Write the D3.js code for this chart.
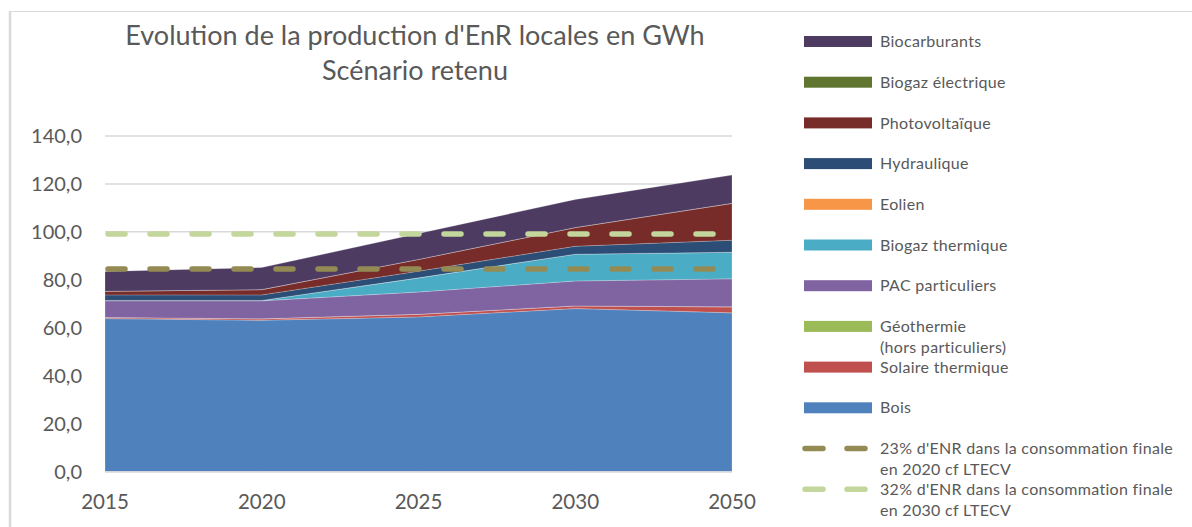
<!DOCTYPE html>
<html>
<head>
<meta charset="utf-8">
<script src="https://cdn.jsdelivr.net/npm/d3@7"></script>
<style>
  body { margin: 0; background: #fff; }
  svg text { font-family: Lato, "Open Sans", sans-serif; fill: #595959; }
</style>
</head>
<body>
<script>
// values (GWh)
const years = ["2015", "2020", "2025", "2030", "2050"];
const bois = [63.8, 63.1, 64.5, 68.0, 66.2];
const solaireThermique = [0.5, 0.6, 1.1, 1.1, 2.5];
const geothermie = [0, 0, 0, 0, 0];
const pacParticuliers = [6.9, 7.5, 9.3, 10.4, 11.7];
const biogazThermique = [0.2, 0.2, 5.9, 11.2, 11.1];
const eolien = [0, 0, 0, 0, 0];
const hydraulique = [2.3, 2.3, 2.8, 3.3, 5.0];
const photovoltaique = [1.5, 2.2, 4.9, 7.8, 15.4];
const biogazElectrique = [0, 0, 0, 0, 0];
const biocarburants = [8.3, 9.2, 10.8, 11.7, 11.8];
const objectif2020 = [84.5, 84.5, 84.5, 84.5, 84.5];
const objectif2030 = [99.1, 99.1, 99.1, 99.1, 99.1];
const yTicks = [0, 20, 40, 60, 80, 100, 120, 140];

const w = 1192;
const h = 527;

// bottom to top
const series = [
  { key: "bois", label: ["Bois"], values: bois, color: "#4F81BD" },
  { key: "solaire", label: ["Solaire thermique"], values: solaireThermique, color: "#C0504D" },
  { key: "geo", label: ["Géothermie", "(hors particuliers)"], values: geothermie, color: "#9BBB59" },
  { key: "pac", label: ["PAC particuliers"], values: pacParticuliers, color: "#8064A2" },
  { key: "biogazth", label: ["Biogaz thermique"], values: biogazThermique, color: "#4BACC6" },
  { key: "eolien", label: ["Eolien"], values: eolien, color: "#F79646" },
  { key: "hydro", label: ["Hydraulique"], values: hydraulique, color: "#2C4D75" },
  { key: "pv", label: ["Photovoltaïque"], values: photovoltaique, color: "#772C2A" },
  { key: "biogazel", label: ["Biogaz électrique"], values: biogazElectrique, color: "#5F7530" },
  { key: "biocarb", label: ["Biocarburants"], values: biocarburants, color: "#4D3B62" }
];
const lines = [
  { label: ["23% d'ENR dans la consommation finale", "en 2020 cf LTECV"], values: objectif2020, color: "#948A54" },
  { label: ["32% d'ENR dans la consommation finale", "en 2030 cf LTECV"], values: objectif2030, color: "#C3D69B" }
];

const table = years.map((y, i) => {
  const row = { year: y };
  series.forEach(s => { row[s.key] = s.values[i]; });
  return row;
});

const svg = d3.select("body").append("svg")
  .attr("width", w)
  .attr("height", h);

// outer frame (only top and left visible)
svg.append("line").attr("x1", 10).attr("x2", w).attr("y1", 11.5).attr("y2", 11.5)
  .attr("stroke", "#d9d9d9").attr("stroke-width", 1.2);
svg.append("line").attr("x1", 10).attr("x2", 10).attr("y1", 11).attr("y2", h)
  .attr("stroke", "#d9d9d9").attr("stroke-width", 2.5);

const x = d3.scalePoint().domain(years).range([105, 732]);
const y = d3.scaleLinear().domain([0, 140]).range([471.5, 136]);

const fmt = d => d3.format(".1f")(d).replace(".", ",");

// gridlines
svg.append("g").selectAll("line")
  .data(yTicks.filter(d => d > 0))
  .enter().append("line")
  .attr("x1", 105).attr("x2", 732)
  .attr("y1", d => y(d)).attr("y2", d => y(d))
  .attr("stroke", "#d9d9d9").attr("stroke-width", 1.5);

const stack = d3.stack().keys(series.map(s => s.key));
const stacked = stack(table);

const area = d3.area()
  .x(d => x(d.data.year))
  .y0(d => y(d[0]))
  .y1(d => y(d[1]));

svg.append("g").selectAll("path")
  .data(stacked)
  .enter().append("path")
  .attr("d", area)
  .attr("fill", (d, i) => series[i].color)
  .attr("stroke", "rgba(255,255,255,0.3)")
  .attr("stroke-width", 0.7);

// axis line
svg.append("line").attr("x1", 105).attr("x2", 732)
  .attr("y1", y(0) + 0.5).attr("y2", y(0) + 0.5)
  .attr("stroke", "#d9d9d9").attr("stroke-width", 1.5);

// target lines
const line = d3.line()
  .x((d, i) => x(years[i]))
  .y(d => y(d));

svg.append("g").selectAll("path")
  .data(lines)
  .enter().append("path")
  .attr("d", d => line(d.values))
  .attr("fill", "none")
  .attr("stroke", d => d.color)
  .attr("stroke-width", 5.5)
  .attr("stroke-linecap", "round")
  .attr("stroke-dasharray", "17,25")
  .attr("transform", "translate(3,0)");

// y labels
svg.append("g").selectAll("text")
  .data(yTicks)
  .enter().append("text")
  .attr("x", 82)
  .attr("y", d => y(d))
  .attr("dy", "0.35em")
  .attr("text-anchor", "end")
  .style("font-size", "20px")
  .text(fmt);

// x labels
svg.append("g").selectAll("text")
  .data(years)
  .enter().append("text")
  .attr("x", d => x(d))
  .attr("y", 509)
  .attr("text-anchor", "middle")
  .style("font-size", "20.5px")
  .text(d => d);

// title
const title = svg.append("text")
  .attr("x", 415)
  .attr("text-anchor", "middle")
  .style("font-size", "27px");
title.append("tspan").attr("x", 415).attr("y", 45).text("Evolution de la production d'EnR locales en GWh");
title.append("tspan").attr("x", 415).attr("y", 80).text("Scénario retenu");

// legend
const legendItems = series.slice().reverse().map(s => ({ type: "area", label: s.label, color: s.color }))
  .concat(lines.map(l => ({ type: "line", label: l.label, color: l.color })));

const legend = svg.append("g")
  .selectAll("g")
  .data(legendItems)
  .enter().append("g")
  .attr("transform", (d, i) => "translate(804," + (41.5 + i * 40.7) + ")");

legend.filter(d => d.type === "area").append("rect")
  .attr("x", 0).attr("y", -5.5)
  .attr("width", 68).attr("height", 11)
  .attr("fill", d => d.color);

legend.filter(d => d.type === "line").append("line")
  .attr("x1", 1).attr("x2", 66)
  .attr("y1", 0).attr("y2", 0)
  .attr("stroke", d => d.color)
  .attr("stroke-width", 5.5)
  .attr("stroke-linecap", "round")
  .attr("stroke-dasharray", "18,24");

legend.append("text")
  .attr("x", 76)
  .attr("y", 0)
  .style("font-size", "16px")
  .style("letter-spacing", "0.3px")
  .selectAll("tspan")
  .data(d => d.label)
  .enter().append("tspan")
  .attr("x", 76)
  .attr("y", (d, i) => i * 21)
  .attr("dy", "0.35em")
  .text(d => d);
</script>
</body>
</html>
